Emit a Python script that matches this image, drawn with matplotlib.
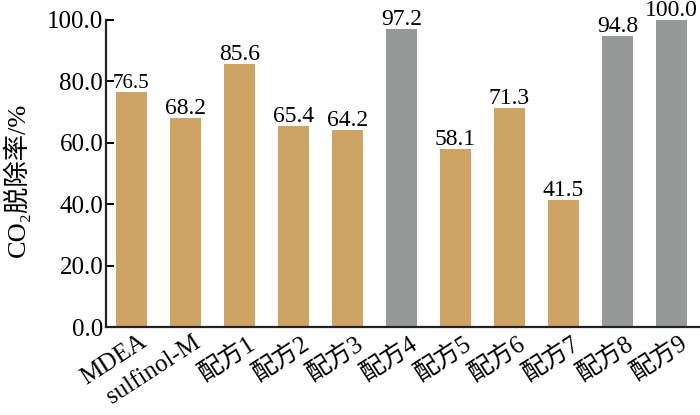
import matplotlib
matplotlib.use("Agg")
import matplotlib.pyplot as plt
import matplotlib.transforms as mtransforms
import numpy as np

plt.rcParams['font.family'] = ['Liberation Serif', 'Noto Sans CJK SC', 'DejaVu Sans']

categories = ['MDEA', 'sulfinol-M', '配方1', '配方2', '配方3', '配方4',
              '配方5', '配方6', '配方7', '配方8', '配方9']
removal = [76.5, 68.2, 85.6, 65.4, 64.2, 97.2, 58.1, 71.3, 41.5, 94.8, 100.0]
highlight = [False, False, False, False, False, True,
             False, False, False, True, True]

tan = '#cda464'
grey = '#979998'


def main():
    fig = plt.figure(figsize=(7, 4.15), dpi=100)
    ax = fig.add_axes([0.1514, 0.212, 0.8486, 0.740])

    x = np.arange(len(categories))
    colors = [grey if h else tan for h in highlight]
    bars = ax.bar(x, removal, width=0.58, color=colors, zorder=2)

    for b, v in zip(bars, removal):
        # MDEA label is squeezed in the original
        fs = 15 if v == removal[0] else 17
        ax.text(b.get_x() + b.get_width() / 2, v + 1.3, '%.1f' % v,
                ha='center', va='baseline', fontsize=fs, clip_on=False)

    ax.set_xlim(-0.47, len(categories) - 0.47)
    ax.set_ylim(0, 100)
    ax.set_yticks(np.arange(0, 101, 20))
    ax.set_yticklabels(['%.1f' % t for t in np.arange(0, 101, 20)])

    # category labels, rotated and nudged right like the original
    ax.set_xticks(x)
    ax.set_xticklabels([])
    offset = mtransforms.ScaledTranslation(7 / 100, -4 / 100, fig.dpi_scale_trans)
    trans = ax.get_xaxis_transform() + offset
    for xi, name in zip(x, categories):
        ax.text(xi, 0, name, transform=trans, rotation=33, ha='right', va='top',
                rotation_mode='anchor', fontsize=18, clip_on=False)

    ax.set_ylabel('CO₂脱除率/%', fontsize=19)
    ax.yaxis.set_label_coords(-0.128, 0.479)

    ax.spines['top'].set_visible(False)
    ax.spines['right'].set_visible(False)
    for s in ['left', 'bottom']:
        ax.spines[s].set_linewidth(1.6)
        ax.spines[s].set_color('#222222')

    ax.tick_params(axis='y', direction='in', length=6, width=1.4,
                   labelsize=18, pad=2)
    ax.tick_params(axis='x', length=0)

    fig.savefig('out.png', dpi=100)


if __name__ == '__main__':
    main()
